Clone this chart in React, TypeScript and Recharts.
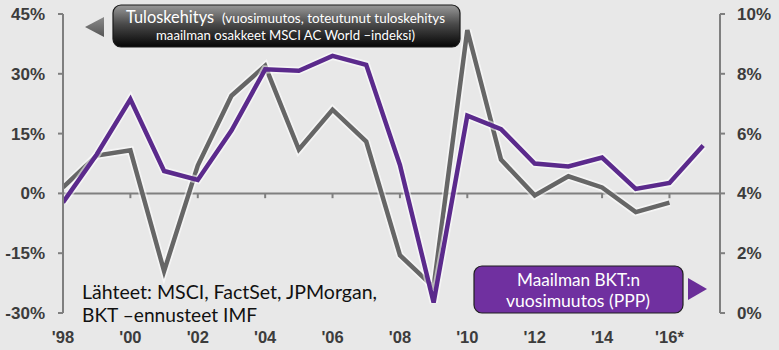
import React from "react";
import { ComposedChart, Line, XAxis, YAxis, ReferenceLine } from "recharts";

const years = [1998, 1999, 2000, 2001, 2002, 2003, 2004, 2005, 2006, 2007, 2008, 2009, 2010, 2011, 2012, 2013, 2014, 2015, 2016, 2017];
const earningsGrowth = [1.5, 9.5, 10.8, -19.5, 7, 24.5, 32, 11, 21, 13, -15.5, -23.5, 41, 8.5, -0.5, 4.3, 1.5, -4.7, -2.3, null];
const gdpGrowth = [3.7, 5.3, 7.15, 4.75, 4.45, 6.1, 8.15, 8.1, 8.6, 8.3, 4.95, 0.35, 6.6, 6.15, 5.0, 4.9, 5.2, 4.15, 4.35, 5.6];
const xTicks = [1998, 2000, 2002, 2004, 2006, 2008, 2010, 2012, 2014, 2016];
const xTickLabels = ["'98", "'00", "'02", "'04", "'06", "'08", "'10", "'12", "'14", "'16*"];
const leftTicks = [-30, -15, 0, 15, 30, 45];
const rightTicks = [0, 2, 4, 6, 8, 10];

const data = years.map((year, i) => ({ year, earnings: earningsGrowth[i], gdp: gdpGrowth[i] }));

const AXIS = "#7f7f7f";
const GREY = "#666666";
const PURPLE = "#5b2a8c";
const tickFont = { fontFamily: "'Liberation Sans', Arial, sans-serif", fontSize: 17, fontWeight: 700, fill: "#3c3c3c" };
const calibri = "Lato, 'Open Sans', sans-serif";

const XTick = (props: any) => {
  const { x, y, payload } = props;
  const idx = xTicks.indexOf(payload.value);
  return (
    <text x={x} y={y + 30} textAnchor="middle" {...tickFont} fontSize={16.5}>
      {idx >= 0 ? xTickLabels[idx] : ""}
    </text>
  );
};

export default function App() {
  return (
    <div style={{ position: "absolute", left: 0, top: 0, width: 779, height: 350, background: "#e8e8e8" }}>
      <ComposedChart width={779} height={350} data={data} margin={{ top: 14, right: 0, bottom: 0, left: 0 }}>
        <XAxis
          dataKey="year"
          type="number"
          domain={[1998, 2017.5]}
          ticks={xTicks}
          axisLine={false}
          tickLine={false}
          tickSize={0}
          tickMargin={0}
          height={37}
          tick={<XTick />}
          allowDataOverflow
        />
        <YAxis
          yAxisId="left"
          orientation="left"
          domain={[-30, 45]}
          ticks={leftTicks}
          width={63}
          tickFormatter={(v: number) => `${v}%`}
          axisLine={{ stroke: AXIS, strokeWidth: 2 }}
          tickLine={{ stroke: AXIS, strokeWidth: 2 }}
          tickSize={5}
          tickMargin={13}
          tick={tickFont}
        />
        <YAxis
          yAxisId="right"
          orientation="right"
          domain={[0, 10]}
          ticks={rightTicks}
          width={59}
          tickFormatter={(v: number) => `${v}%`}
          axisLine={{ stroke: AXIS, strokeWidth: 2 }}
          tickLine={{ stroke: AXIS, strokeWidth: 2 }}
          tickSize={5}
          tickMargin={12}
          tick={{ ...tickFont, textAnchor: "start" }}
        />
        <ReferenceLine yAxisId="left" y={0} stroke={AXIS} strokeWidth={2} />
        {xTicks.slice(1).map((t) => (
          <ReferenceLine
            key={t}
            yAxisId="left"
            segment={[{ x: t, y: 0 }, { x: t, y: -1.2 }]}
            stroke={AXIS}
            strokeWidth={2}
          />
        ))}
        <Line yAxisId="left" type="linear" dataKey="earnings" stroke="#ffffff" strokeOpacity={0.55} strokeWidth={8} dot={false} isAnimationActive={false} connectNulls={false} />
        <Line yAxisId="left" type="linear" dataKey="earnings" stroke={GREY} strokeWidth={4.5} dot={false} isAnimationActive={false} connectNulls={false} />
        <Line yAxisId="right" type="linear" dataKey="gdp" stroke="#ffffff" strokeOpacity={0.55} strokeWidth={8} dot={false} isAnimationActive={false} />
        <Line yAxisId="right" type="linear" dataKey="gdp" stroke={PURPLE} strokeWidth={4.5} dot={false} isAnimationActive={false} />
      </ComposedChart>
      <svg width={779} height={350} style={{ position: "absolute", left: 0, top: 0, pointerEvents: "none" }}>
        <defs>
          <linearGradient id="greyBox" x1="0" y1="0" x2="0" y2="1">
            <stop offset="0%" stopColor="#9a9a9a" />
            <stop offset="45%" stopColor="#4a4a4a" />
            <stop offset="100%" stopColor="#050505" />
          </linearGradient>
          <linearGradient id="greyTri" x1="0" y1="0" x2="0" y2="1">
            <stop offset="0%" stopColor="#8a8a8a" />
            <stop offset="100%" stopColor="#555555" />
          </linearGradient>
        </defs>
        <polygon points="85,27 104,17 104,37" fill="url(#greyTri)" />
        <rect x={113} y={5} width={347} height={42} rx={8} fill="url(#greyBox)" stroke="#1a1a1a" strokeWidth={1.2} />
        <text x={126} y={23} fill="#ffffff" fontFamily={calibri} fontSize={18} textLength={88} lengthAdjust="spacingAndGlyphs">Tuloskehitys</text>
        <text x={222} y={23} fill="#ffffff" fontFamily={calibri} fontSize={14} textLength={223} lengthAdjust="spacingAndGlyphs">(vuosimuutos, toteutunut tuloskehitys</text>
        <text x={156} y={40} fill="#ffffff" fontFamily={calibri} fontSize={14} textLength={259} lengthAdjust="spacingAndGlyphs">maailman osakkeet MSCI AC World –indeksi)</text>

        <rect x={474} y={266} width={209} height={47} rx={8} fill="#7030a0" stroke="#1e1e1e" strokeWidth={1.2} />
        <text x={517} y={286} fill="#ffffff" fontFamily={calibri} fontSize={18} textLength={123} lengthAdjust="spacingAndGlyphs">Maailman BKT:n</text>
        <text x={506} y={307} fill="#ffffff" fontFamily={calibri} fontSize={18} textLength={144} lengthAdjust="spacingAndGlyphs">vuosimuutos (PPP)</text>
        <polygon points="688,278 688,300 707,289" fill="#6a2e98" />

        <text x={82} y={299} fill="#111111" fontFamily={calibri} fontSize={19} textLength={295} lengthAdjust="spacingAndGlyphs">Lähteet: MSCI, FactSet, JPMorgan,</text>
        <text x={82} y={322} fill="#111111" fontFamily={calibri} fontSize={19} textLength={175} lengthAdjust="spacingAndGlyphs">BKT –ennusteet IMF</text>
      </svg>
    </div>
  );
}
